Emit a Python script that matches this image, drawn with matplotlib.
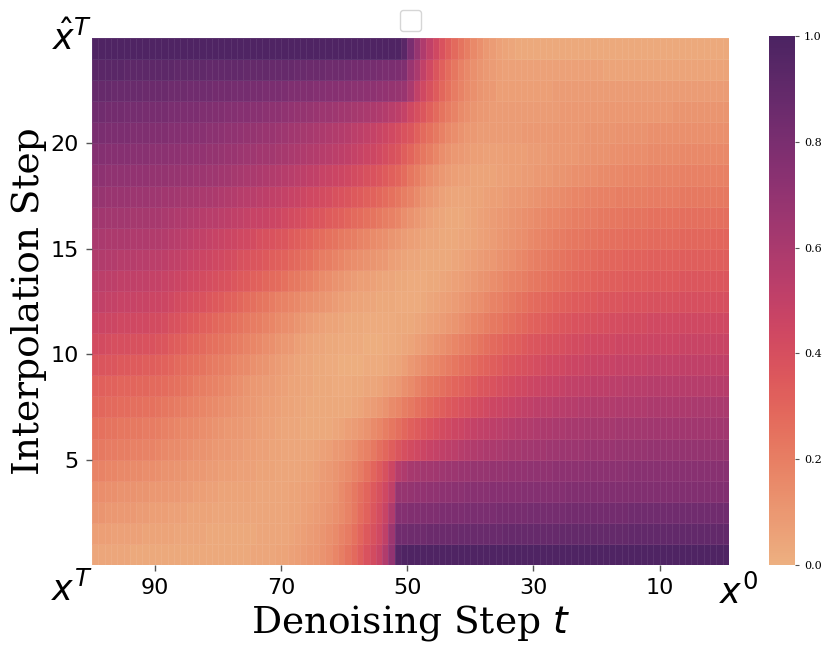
import numpy as np
import matplotlib
matplotlib.use("Agg")
import matplotlib.pyplot as plt
import seaborn as sns

# ---------------- data ----------------
denoise_steps = list(range(100, -1, -1))   # t shown left -> right
interp_steps = list(range(25))              # rows, bottom -> top
x_ticks = [90, 70, 50, 30, 10]
y_ticks = [5, 10, 15, 20]
cbar_ticks = [0.0, 0.2, 0.4, 0.6, 0.8, 1.0]

row_24 = [.98,.98,.98,.98,.98,.98,.98,.98,.98,.98,.98,.98,.98,.98,.98,.98,.98,.98,.98,.98,
          .98,.98,.98,.98,.98,.98,.98,.98,.98,.98,.98,.98,.98,.98,.98,.98,.98,.98,.98,.98,
          .98,.98,.98,.98,.98,.98,.98,.98,.98,
          .93,.80,.68,.58,.50,.44,.38,.33,.28,.24,.20,.16,.13,.10,.08,.06,.05,.04,
          .03,.03,.03,.03,.03,.03,.03,.03,.03,.03,.03,.03,.03,.03,.03,.03,.03,.03,.03,.03,
          .03,.03,.03,.03,.03,.03,.03,.03,.03,.03,.03,.03,.03,.03]
row_23 = [.93,.93,.93,.93,.93,.92,.92,.92,.92,.92,.92,
          .92,.92,.91,.91,.91,.91,.91,.90,.90,.90,
          .90,.90,.90,.89,.89,.89,.89,.88,.88,.88,
          .88,.87,.87,.86,.86,.86,.85,.85,.85,.84,
          .83,.83,.82,.82,.81,.80,.80,.79,.78,
          .67,.60,.50,.43,.37,.32,.27,.23,.19,.16,.13,
          .11,.09,.08,.07,.06,.06,.06,.06,.06,
          .06,.06,.06,.06,.06,.06,.06,.06,.06,.06,
          .06,.05,.05,.05,.05,.05,.05,.05,.05,.05,
          .05,.05,.05,.05,.05,.05,.05,.05,.05,.05,.05]
row_22 = [.88,.88,.88,.87,.87,.87,.87,.87,.86,.86,.86,
          .86,.85,.85,.85,.84,.84,.84,.84,.83,.83,
          .83,.82,.82,.82,.81,.81,.80,.80,.80,.79,
          .78,.78,.77,.77,.76,.76,.75,.75,.74,.74,
          .73,.73,.72,.72,.71,.70,.69,.68,.67,
          .60,.50,.44,.39,.34,.29,.25,.21,.18,.15,.13,
          .11,.10,.09,.07,.07,.07,.07,.07,.07,
          .07,.07,.07,.08,.08,.08,.08,.08,.08,.08,
          .08,.08,.08,.08,.08,.08,.08,.08,.08,.08,
          .08,.08,.08,.08,.08,.08,.08,.08,.08,.08,.08]
row_21 = [.84,.84,.83,.83,.83,.82,.82,.82,.81,.81,.81,
          .81,.80,.80,.79,.79,.79,.78,.78,.77,.77,
          .76,.76,.75,.75,.74,.74,.73,.72,.72,.71,
          .70,.69,.69,.68,.67,.66,.66,.65,.64,.63,
          .62,.61,.60,.59,.58,.56,.54,.52,.49,
          .44,.40,.36,.32,.28,.24,.21,.18,.15,.13,.11,
          .10,.09,.08,.08,.08,.08,.08,.08,.08,
          .08,.08,.08,.08,.09,.09,.09,.09,.09,.09,
          .09,.10,.10,.10,.10,.10,.10,.10,.10,.10,
          .10,.10,.11,.11,.11,.11,.11,.11,.11,.11,.11]
row_20 = [.80,.80,.79,.79,.79,.79,.78,.78,.78,.77,.77,
          .77,.76,.76,.75,.75,.74,.74,.73,.73,.72,
          .71,.71,.70,.69,.69,.68,.67,.67,.66,.65,
          .64,.63,.62,.61,.60,.59,.58,.57,.56,.55,
          .53,.52,.50,.49,.47,.45,.43,.41,.38,
          .36,.32,.28,.25,.22,.19,.16,.14,.12,.10,.09,
          .08,.08,.08,.08,.08,.08,.08,.09,.09,
          .09,.09,.09,.10,.10,.10,.10,.10,.11,.11,
          .11,.11,.11,.12,.12,.12,.12,.12,.13,.13,
          .13,.13,.13,.13,.13,.13,.13,.13,.13,.13,.13]
row_19 = [.76,.76,.75,.75,.75,.75,.74,.74,.74,.73,.73,
          .73,.72,.72,.71,.71,.70,.70,.69,.69,.68,
          .67,.67,.66,.65,.65,.64,.63,.63,.62,.61,
          .60,.59,.58,.57,.56,.55,.54,.53,.52,.51,
          .49,.48,.46,.45,.43,.41,.39,.37,.33,
          .30,.26,.23,.20,.17,.14,.12,.10,.09,.08,.07,
          .07,.06,.06,.06,.07,.07,.07,.07,.08,
          .08,.08,.09,.09,.10,.10,.10,.11,.11,.12,
          .12,.12,.13,.13,.14,.14,.14,.14,.15,.15,
          .15,.15,.15,.16,.16,.16,.16,.16,.16,.16,.16]
row_18 = [.72,.72,.71,.71,.71,.71,.70,.70,.70,.69,.69,
          .69,.68,.68,.67,.67,.66,.66,.65,.65,.64,
          .63,.62,.61,.60,.60,.59,.58,.57,.56,.55,
          .54,.53,.52,.51,.50,.48,.47,.46,.45,.44,
          .42,.41,.39,.38,.36,.34,.32,.30,.27,
          .23,.20,.17,.14,.12,.10,.08,.07,.06,.06,.05,
          .05,.05,.05,.06,.06,.07,.07,.08,.08,
          .09,.10,.10,.11,.11,.12,.13,.13,.14,.14,
          .15,.15,.16,.16,.17,.17,.17,.17,.18,.18,
          .18,.18,.18,.19,.19,.19,.19,.19,.19,.19,.19]
row_17 = [.68,.68,.67,.67,.67,.67,.66,.66,.66,.65,.65,
          .64,.64,.63,.62,.62,.61,.60,.60,.59,.58,
          .57,.56,.55,.54,.54,.53,.52,.51,.50,.49,
          .48,.47,.45,.44,.43,.42,.41,.39,.38,.37,
          .35,.34,.32,.31,.29,.27,.25,.23,.20,
          .18,.15,.12,.10,.08,.06,.05,.04,.04,.04,.05,
          .05,.06,.07,.07,.08,.09,.10,.10,.11,
          .12,.13,.14,.14,.15,.16,.17,.17,.18,.18,
          .19,.19,.19,.20,.20,.20,.20,.20,.21,.21,
          .21,.21,.21,.22,.22,.22,.22,.22,.22,.22,.22]
row_16 = [.64,.64,.63,.63,.63,.63,.62,.62,.62,.61,.61,
          .60,.59,.58,.58,.57,.56,.55,.54,.54,.53,
          .52,.51,.50,.49,.48,.48,.47,.46,.45,.43,
          .42,.41,.40,.38,.37,.36,.34,.33,.32,.30,
          .28,.27,.25,.24,.22,.20,.19,.17,.14,
          .12,.10,.08,.06,.05,.04,.03,.03,.03,.04,.05,
          .06,.07,.08,.09,.10,.11,.12,.13,.14,
          .15,.16,.17,.17,.18,.19,.20,.20,.21,.21,
          .22,.22,.23,.23,.24,.24,.24,.24,.25,.25,
          .25,.25,.25,.26,.26,.26,.26,.26,.26,.26,.26]
row_15 = [.60,.60,.59,.59,.59,.59,.58,.58,.58,.57,.57,
          .56,.55,.54,.53,.52,.51,.50,.49,.48,.47,
          .46,.45,.44,.43,.42,.40,.39,.38,.37,.36,
          .34,.33,.31,.30,.28,.27,.25,.24,.22,.21,
          .20,.18,.17,.15,.14,.13,.11,.10,.08,
          .07,.06,.05,.04,.04,.03,.03,.03,.04,.04,.05,
          .06,.07,.08,.10,.11,.12,.13,.14,.16,
          .17,.18,.19,.20,.21,.22,.23,.23,.24,.24,
          .25,.25,.26,.26,.27,.27,.27,.27,.28,.28,
          .28,.28,.28,.29,.29,.29,.29,.29,.30,.30,.30]
row_14 = [.57,.57,.56,.56,.55,.55,.55,.54,.54,.53,.53,
          .52,.51,.50,.49,.48,.47,.46,.45,.44,.43,
          .42,.41,.39,.38,.37,.36,.35,.33,.32,.31,
          .29,.28,.26,.25,.23,.21,.20,.18,.17,.15,
          .14,.13,.12,.11,.10,.09,.07,.06,.05,
          .04,.04,.03,.03,.03,.03,.03,.04,.05,.06,.07,
          .08,.09,.10,.12,.13,.14,.16,.17,.19,
          .20,.21,.22,.23,.24,.25,.26,.27,.27,.28,
          .29,.29,.30,.30,.31,.31,.31,.31,.32,.32,
          .32,.32,.32,.33,.33,.33,.33,.33,.33,.33,.33]
row_13 = [.53,.53,.52,.52,.51,.51,.51,.50,.50,.49,.49,
          .48,.47,.46,.45,.44,.43,.42,.41,.40,.39,
          .38,.36,.35,.34,.32,.31,.29,.28,.27,.25,
          .23,.22,.20,.19,.17,.15,.14,.12,.11,.09,
          .08,.07,.07,.06,.05,.04,.04,.03,.03,
          .02,.02,.02,.03,.03,.04,.05,.06,.07,.08,.09,
          .11,.12,.14,.15,.17,.18,.19,.20,.22,
          .23,.24,.25,.26,.27,.28,.29,.30,.30,.31,
          .32,.32,.33,.33,.34,.34,.34,.34,.35,.35,
          .35,.35,.35,.36,.36,.36,.36,.36,.36,.36,.36]
row_12 = [.50,.50,.49,.49,.48,.48,.48,.47,.47,.46,.46,
          .45,.44,.42,.41,.40,.39,.38,.36,.35,.34,
          .32,.31,.29,.27,.26,.24,.23,.21,.19,.18,
          .17,.16,.14,.13,.12,.11,.10,.08,.07,.06,
          .05,.05,.04,.04,.03,.03,.03,.02,.02,
          .02,.02,.03,.04,.05,.06,.07,.08,.10,.11,.13,
          .14,.16,.18,.19,.21,.22,.24,.25,.27,
          .28,.29,.30,.31,.32,.33,.34,.34,.35,.35,
          .36,.36,.37,.37,.38,.38,.38,.38,.39,.39,
          .39,.39,.39,.40,.40,.40,.40,.40,.40,.40,.40]
row_11 = [.46,.46,.45,.45,.44,.44,.44,.43,.43,.42,.42,
          .41,.39,.38,.36,.35,.34,.32,.31,.29,.28,
          .27,.25,.24,.22,.21,.20,.18,.17,.15,.14,
          .13,.11,.10,.08,.07,.06,.05,.05,.04,.03,
          .03,.03,.02,.02,.02,.02,.02,.03,.03,
          .03,.04,.05,.06,.07,.08,.10,.11,.13,.15,.17,
          .18,.20,.22,.23,.25,.26,.28,.29,.31,
          .32,.33,.34,.35,.36,.37,.38,.38,.39,.39,
          .40,.40,.41,.41,.42,.42,.42,.42,.43,.43,
          .43,.43,.43,.44,.44,.44,.44,.44,.44,.44,.44]
row_10 = [.42,.42,.41,.40,.40,.40,.39,.39,.38,.38,.37,
          .36,.34,.33,.32,.30,.29,.28,.26,.25,.24,
          .23,.21,.20,.18,.17,.16,.14,.13,.11,.10,
          .09,.07,.06,.05,.04,.04,.03,.03,.02,.02,
          .02,.02,.01,.01,.01,.02,.02,.03,.04,
          .05,.07,.08,.10,.12,.13,.15,.17,.19,.20,.22,
          .24,.26,.28,.29,.31,.32,.33,.35,.36,
          .37,.38,.39,.39,.40,.41,.42,.42,.43,.43,
          .44,.44,.44,.45,.45,.45,.45,.45,.46,.46,
          .46,.46,.46,.47,.47,.47,.47,.47,.47,.47,.47]
row_09 = [.37,.37,.36,.36,.35,.35,.34,.34,.33,.33,.32,
          .31,.30,.28,.27,.26,.25,.24,.22,.21,.20,
          .19,.17,.16,.15,.13,.12,.11,.09,.08,.07,
          .06,.05,.04,.04,.03,.03,.02,.02,.01,.01,
          .01,.01,.02,.02,.02,.03,.04,.05,.07,
          .10,.12,.14,.16,.17,.19,.21,.23,.25,.26,.28,
          .30,.31,.33,.34,.36,.37,.38,.39,.40,
          .41,.42,.43,.43,.44,.45,.46,.46,.47,.47,
          .48,.48,.48,.49,.49,.49,.49,.49,.50,.50,
          .50,.50,.50,.51,.51,.51,.51,.51,.51,.51,.51]
row_08 = [.32,.32,.31,.31,.30,.30,.30,.29,.29,.28,.28,
          .27,.26,.25,.24,.23,.21,.20,.19,.18,.17,
          .16,.14,.13,.11,.10,.09,.08,.08,.07,.06,
          .05,.05,.04,.04,.03,.03,.03,.02,.02,.02,
          .03,.03,.04,.04,.05,.07,.08,.10,.13,
          .15,.18,.21,.23,.24,.26,.28,.30,.31,.33,.34,
          .36,.37,.38,.40,.41,.42,.43,.44,.45,
          .46,.47,.48,.48,.49,.50,.50,.51,.51,.52,
          .52,.52,.53,.53,.54,.54,.54,.54,.55,.55,
          .55,.55,.55,.55,.55,.55,.55,.55,.55,.55,.55]
row_07 = [.29,.29,.28,.28,.27,.27,.26,.26,.25,.25,.24,
          .23,.22,.21,.20,.19,.18,.17,.16,.15,.14,
          .13,.12,.11,.10,.09,.08,.07,.07,.06,.05,
          .05,.04,.04,.03,.03,.03,.03,.03,.03,.03,
          .04,.05,.07,.08,.10,.12,.15,.17,.20,
          .22,.25,.27,.29,.31,.33,.35,.36,.38,.39,.41,
          .42,.43,.45,.46,.47,.48,.49,.50,.51,
          .52,.53,.53,.54,.54,.55,.55,.56,.56,.57,
          .57,.57,.57,.58,.58,.58,.58,.58,.59,.59,
          .59,.59,.59,.59,.59,.60,.60,.60,.60,.60,.60]
row_06 = [.25,.25,.24,.24,.23,.23,.22,.22,.21,.21,.20,
          .19,.18,.17,.16,.16,.15,.14,.13,.12,.11,
          .10,.10,.09,.08,.08,.07,.06,.06,.05,.04,
          .04,.04,.03,.03,.03,.03,.03,.04,.05,.07,
          .08,.10,.12,.15,.17,.20,.23,.26,.29,
          .32,.34,.36,.38,.40,.42,.43,.45,.46,.48,.49,
          .50,.51,.52,.53,.54,.55,.56,.56,.57,
          .58,.59,.59,.60,.60,.61,.61,.61,.62,.62,
          .62,.62,.62,.63,.63,.63,.63,.63,.64,.64,
          .64,.64,.64,.64,.64,.64,.64,.64,.64,.64,.64]
row_05 = [.22,.22,.21,.21,.20,.20,.19,.19,.18,.18,.17,
          .16,.15,.15,.14,.13,.12,.12,.11,.10,.09,
          .09,.08,.08,.07,.07,.06,.06,.05,.05,.04,
          .04,.04,.04,.04,.05,.06,.07,.09,.10,.12,
          .14,.17,.19,.22,.26,.29,.33,.37,.40,
          .42,.44,.46,.48,.49,.51,.52,.53,.55,.56,.57,
          .58,.59,.59,.60,.61,.62,.62,.63,.63,
          .64,.64,.65,.65,.66,.66,.66,.66,.67,.67,
          .67,.67,.67,.68,.68,.68,.68,.68,.69,.69,
          .69,.69,.69,.69,.69,.69,.69,.69,.69,.69,.69]
row_04 = [.18,.18,.17,.17,.16,.16,.15,.15,.14,.14,.13,
          .12,.12,.11,.11,.10,.10,.09,.08,.08,.07,
          .07,.07,.06,.06,.06,.05,.05,.05,.04,.04,
          .04,.04,.05,.05,.06,.08,.09,.11,.13,.15,
          .18,.21,.25,.30,.34,.39,.45,.55,.58,
          .61,.62,.63,.63,.64,.65,.66,.66,.67,.67,.68,
          .68,.68,.69,.69,.69,.70,.70,.70,.71,
          .71,.71,.71,.72,.72,.72,.72,.72,.73,.73,
          .73,.73,.73,.73,.73,.74,.74,.74,.74,.74,
          .74,.74,.74,.74,.74,.74,.74,.74,.74,.74,.74]
row_03 = [.14,.14,.13,.13,.12,.12,.12,.11,.11,.10,.10,
          .10,.09,.09,.08,.08,.07,.07,.06,.06,.05,
          .05,.05,.05,.05,.05,.04,.04,.04,.04,.04,
          .05,.05,.06,.06,.07,.09,.10,.12,.15,.18,
          .22,.26,.30,.35,.39,.44,.51,.68,.68,
          .69,.70,.70,.71,.71,.72,.72,.73,.73,.74,.74,
          .74,.74,.75,.75,.75,.75,.75,.76,.76,
          .76,.76,.76,.76,.76,.77,.77,.77,.77,.77,
          .77,.77,.77,.77,.77,.77,.77,.77,.77,.77,
          .77,.77,.77,.77,.77,.77,.77,.77,.77,.77,.77]
row_02 = [.11,.11,.10,.10,.09,.09,.09,.08,.08,.07,.07,
          .07,.06,.06,.06,.05,.05,.05,.05,.04,.04,
          .04,.04,.04,.04,.04,.04,.04,.04,.04,.04,
          .05,.05,.06,.07,.08,.09,.11,.13,.15,.18,
          .22,.27,.31,.36,.41,.47,.58,.76,.76,
          .77,.77,.78,.78,.78,.79,.79,.79,.79,.80,.80,
          .80,.80,.80,.81,.81,.81,.81,.81,.82,
          .82,.82,.82,.82,.82,.83,.83,.83,.83,.83,
          .83,.83,.83,.83,.83,.84,.84,.84,.84,.84,
          .84,.84,.84,.84,.84,.84,.84,.84,.84,.84,.84]
row_01 = [.07,.07,.07,.06,.06,.06,.06,.06,.05,.05,.05,
          .05,.05,.04,.04,.04,.04,.04,.03,.03,.03,
          .03,.03,.03,.03,.03,.04,.04,.04,.04,.04,
          .05,.06,.07,.08,.09,.11,.13,.15,.18,.21,
          .25,.30,.35,.39,.43,.51,.66,.84,.84,
          .85,.85,.85,.86,.86,.86,.86,.86,.87,.87,.87,
          .87,.87,.87,.87,.88,.88,.88,.88,.88,
          .88,.88,.88,.88,.89,.89,.89,.89,.89,.89,
          .89,.89,.89,.89,.89,.90,.90,.90,.90,.90,
          .90,.90,.90,.90,.90,.90,.90,.90,.90,.90,.90]
row_00 = [.04,.04,.04,.04,.04,.04,.03,.03,.03,.03,.03,
          .03,.03,.03,.03,.03,.03,.03,.03,.03,.03,
          .03,.03,.03,.03,.04,.04,.04,.04,.05,.05,
          .06,.07,.08,.09,.10,.12,.14,.17,.20,.24,
          .28,.33,.38,.42,.47,.57,.70,.95,.98,
          .98,.98,.98,.98,.98,.98,.98,.98,.98,.98,.98,
          .98,.98,.98,.98,.98,.98,.98,.98,.98,
          .98,.98,.98,.98,.98,.98,.98,.98,.98,.98,
          .98,.98,.98,.98,.98,.98,.98,.98,.98,.98,
          .98,.98,.98,.98,.98,.98,.98,.98,.98,.98,.98]

rows = [row_00, row_01, row_02, row_03, row_04, row_05, row_06, row_07, row_08,
        row_09, row_10, row_11, row_12, row_13, row_14, row_15, row_16, row_17,
        row_18, row_19, row_20, row_21, row_22, row_23, row_24]
values = np.array(rows, dtype=float)

# ---------------- figure ----------------
W, H = 830, 651
fig = plt.figure(figsize=(W / 100, H / 100), dpi=100)
ax = fig.add_axes([92 / W, 1 - 565 / H, 637 / W, 527 / H])

cmap = sns.color_palette("flare", as_cmap=True)
steps = np.array(denoise_steps, dtype=float)
x_edges = np.append(steps, steps[-1] - 1)
y_edges = np.arange(len(interp_steps) + 1)
mesh = ax.pcolormesh(x_edges, y_edges, values, cmap=cmap, vmin=0, vmax=1,
                     edgecolors=(1, 1, 1, 0.07), linewidth=0.4)
ax.set_xlim(x_edges[0], x_edges[-1])
ax.set_ylim(y_edges[0], y_edges[-1])
for s in ax.spines.values():
    s.set_visible(False)

ax.set_xticks(x_ticks)
ax.set_xticklabels([str(v) for v in x_ticks], fontsize=16)
ax.set_yticks(y_ticks)
ax.set_yticklabels([str(v) for v in y_ticks], fontsize=16)
ax.tick_params(length=4.5, width=1, color="#555555", pad=5)

ax.set_xlabel("Denoising Step $t$", fontsize=27, family="DejaVu Serif")
ax.set_ylabel("Interpolation Step", fontsize=27, family="DejaVu Serif")
ax.xaxis.set_label_coords(0.5, -0.072)
ax.yaxis.set_label_coords(-0.071, 0.5)

ax.text(0.0, 0.977, r"$\hat{x}^T$", transform=ax.transAxes, ha="right",
        va="baseline", fontsize=25)
ax.text(0.0, -0.068, r"$x^T$", transform=ax.transAxes, ha="right",
        va="baseline", fontsize=25)
ax.text(0.985, -0.074, r"$x^0$", transform=ax.transAxes, ha="left",
        va="baseline", fontsize=25)

ax.legend(handles=[], loc="lower center", bbox_to_anchor=(0.5, 1.0),
          borderpad=0.75)

cax = fig.add_axes([769 / W, 1 - 565 / H, 26 / W, 529 / H])
cb = fig.colorbar(mesh, cax=cax, ticks=cbar_ticks)
cb.outline.set_visible(False)
cax.tick_params(labelsize=8, length=3, width=0.8, color="#555555")
for lbl in cax.get_yticklabels():
    lbl.set_fontfamily("DejaVu Serif")

fig.savefig("out.png", dpi=100)
